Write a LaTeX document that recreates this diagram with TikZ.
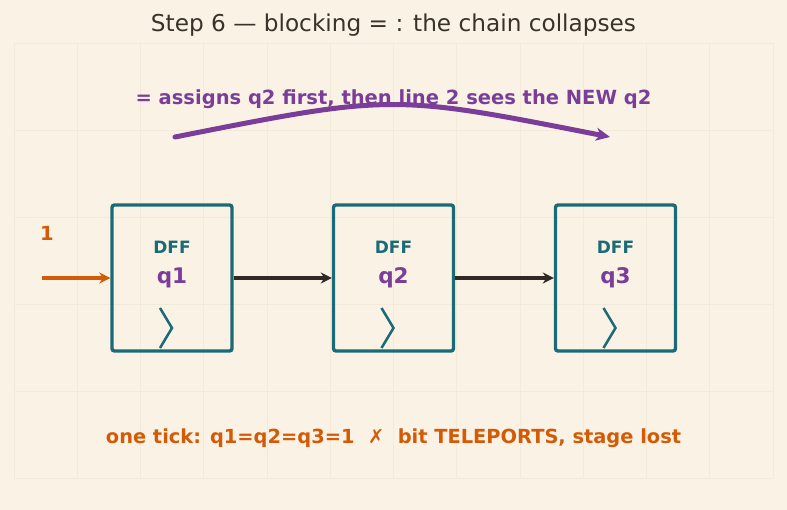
\documentclass[tikz,border=0pt]{standalone}
\usepackage{fontspec}
\setmainfont{DejaVu Sans}
\usetikzlibrary{arrows.meta}
\definecolor{bgc}{HTML}{FAF3E5}
\definecolor{gridc}{HTML}{F3EADA}
\definecolor{titlec}{HTML}{3A3129}
\definecolor{purp}{HTML}{7A3D9A}
\definecolor{oran}{HTML}{D35A06}
\definecolor{teal}{HTML}{1B6A78}
\definecolor{darkc}{HTML}{2F2A26}
\tikzset{
  dff/.style={draw=teal, line width=3.4pt, rounded corners=2.5pt, minimum width=120pt, minimum height=146pt, inner sep=0pt},
  dfflabel/.style={text=teal, font=\bfseries\fontsize{17}{19}\selectfont, inner sep=0pt},
  qlabel/.style={text=purp, font=\bfseries\fontsize{21.5}{24}\selectfont, inner sep=0pt},
  clk/.style={draw=teal, line width=2.5pt},
  wire/.style={draw=darkc, line width=3.4pt, -{Stealth[length=11pt,width=11pt,inset=3.5pt]}},
}
\begin{document}
\begin{tikzpicture}[x=1pt,y=-1pt]
\useasboundingbox[fill=bgc] (0,0) rectangle (787,510);
% faint grid
\foreach \i in {0,...,12} {\draw[gridc, line width=0.6pt] ({14+\i*63.25},43) -- ({14+\i*63.25},478);}
\foreach \j in {0,...,5} {\draw[gridc, line width=0.6pt] (14,{43+\j*87}) -- (773,{43+\j*87});}
% title
\node[text=titlec, font=\fontsize{23.2}{26}\selectfont, inner sep=0pt] (title) at (393.5,25) {Step 6 — blocking = : the chain collapses};
\node[text=purp, font=\bfseries\fontsize{19.5}{22}\selectfont, inner sep=0pt] (note) at (393.5,99) {= assigns q2 first, then line 2 sees the NEW q2};
% boxes
\node[dff] (b1) at (172,278) {};
\node[dff] (b2) at (393.5,278) {};
\node[dff] (b3) at (615.5,278) {};
\foreach \b/\q in {b1/q1,b2/q2,b3/q3} {
  \node[dfflabel] (\b d) at ([yshift=31pt]\b.center) {DFF};
  \node[qlabel] (\b q) at (\b.center) {\q};
  \draw[clk] ([xshift=-12pt,yshift=-30pt]\b.center) -- ([yshift=-50pt]\b.center) -- ([xshift=-12pt,yshift=-70pt]\b.center);
}
% wires
\draw[wire] (b1.east) -- (b2.west);
\draw[wire] (b2.east) -- (b3.west);
\coordinate (in) at (42,278);
\draw[draw=oran, line width=3.4pt, -{Stealth[length=11pt,width=11pt,inset=3.5pt]}] (in) -- (b1.west);
\node[text=oran, font=\bfseries\fontsize{19.5}{22}\selectfont, inner sep=0pt] (one) at (47,233) {1};
% arc
\coordinate (as) at (175,137);
\coordinate (ae) at (610,137);
\draw[draw=purp, line width=5pt, line cap=round, -{Stealth[length=14pt,width=13pt,inset=4pt]}] (as) .. controls (392,94) .. (ae);
% bottom
\node[text=oran, font=\bfseries\fontsize{19.4}{22}\selectfont, inner sep=0pt] (foot) at (393.5,438) {one tick: q1=q2=q3=1 \ ✗ \ bit TELEPORTS, stage lost};
\end{tikzpicture}
\end{document}
